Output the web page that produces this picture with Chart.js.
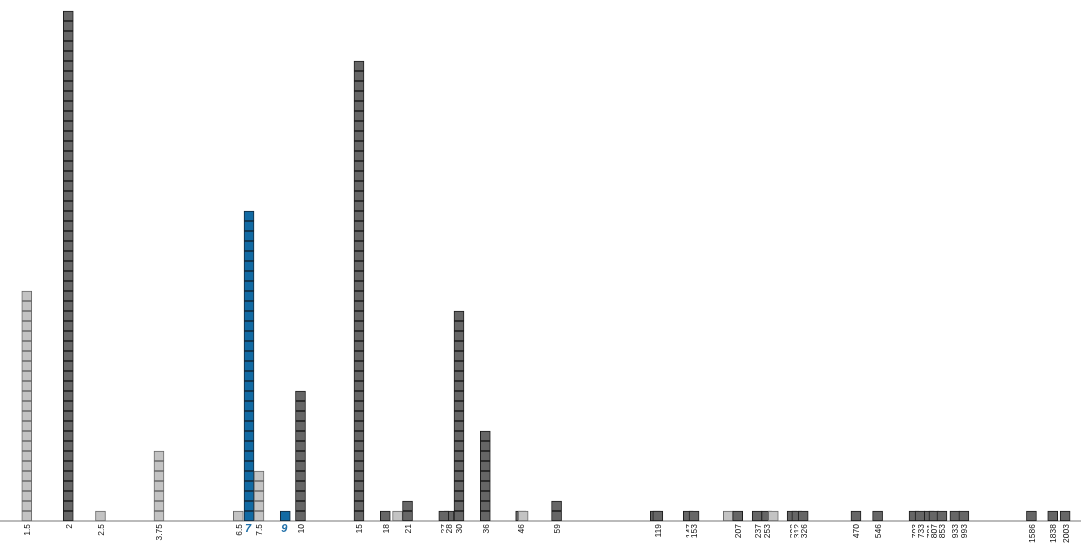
<!DOCTYPE html>
<html>
<head>
<meta charset="utf-8">
<script src="https://cdn.jsdelivr.net/npm/chart.js@4.4.0/dist/chart.umd.min.js"></script>
<style>
  html, body { margin: 0; padding: 0; background: #fff; }
  #wrap { width: 1081px; height: 557px; }
</style>
</head>
<body>
<div id="wrap"><canvas id="chart"></canvas></div>
<script>
// one column per value (log x), counts = number of unit boxes stacked
const values = [1.5, 2, 2.5, 3.75, 6.5, 7, 7.5, 9, 10, 15, 18, 19.6, 21, 28, 27, 30, 36, 46, 46.8, 59,
  117, 119, 147, 153, 194, 207, 237, 253, 265, 302, 312, 326, 470, 546, 703, 733, 781, 807, 853,
  933, 993, 1586, 1838, 2003];
const counts = [23, 51, 1, 7, 1, 31, 5, 1, 13, 46, 1, 1, 2, 1, 1, 21, 9, 1, 1, 2,
  1, 1, 1, 1, 1, 1, 1, 1, 1, 1, 1, 1, 1, 1, 1, 1, 1, 1, 1,
  1, 1, 1, 1, 1];
// L = light, D = dark, B = highlighted (blue)
const kinds = ['L', 'D', 'L', 'L', 'L', 'B', 'L', 'B', 'D', 'D', 'D', 'L', 'D', 'D', 'D', 'D', 'D', 'D', 'L', 'D',
  'D', 'D', 'D', 'D', 'L', 'D', 'D', 'D', 'L', 'D', 'D', 'D', 'D', 'D', 'D', 'D', 'D', 'D', 'D',
  'D', 'D', 'D', 'D', 'D'];

// labels under the axis
const tickValues = [1.5, 2, 2.5, 3.75, 6.5, 7, 7.5, 9, 10, 15, 18, 21, 27, 28, 30, 36, 46, 59,
  119, 147, 153, 207, 237, 253, 302, 312, 326, 470, 546, 703, 733, 781, 807, 853, 933, 993,
  1586, 1838, 2003];
const highlightTicks = [7, 9];

const palette = {
  L: { fill: '#c3c3c3', border: '#6a6a6a' },
  D: { fill: '#666666', border: '#1c1c1c' },
  B: { fill: '#126aa3', border: '#13283a' }
};

// stack the unit boxes layer by layer
const maxCount = Math.max(...counts);
const layers = [];
for (let k = 0; k < maxCount; k++) {
  const pts = [], fills = [], borders = [];
  values.forEach((v, i) => {
    if (counts[i] > k) {
      pts.push({ x: v, y: 1 });
      fills.push(palette[kinds[i]].fill);
      borders.push(palette[kinds[i]].border);
    }
  });
  layers.push({
    data: pts,
    backgroundColor: fills,
    borderColor: borders,
    borderWidth: 1,
    borderSkipped: false,
    barThickness: 10,
    stack: 'units'
  });
}

const highlightLabels = {
  id: 'highlightLabels',
  afterDraw(chart) {
    const xs = chart.scales.x;
    const ctx = chart.ctx;
    ctx.save();
    ctx.font = 'italic bold 11px "Liberation Sans", Arial, sans-serif';
    ctx.fillStyle = '#1f6fa8';
    ctx.textAlign = 'center';
    ctx.textBaseline = 'top';
    highlightTicks.forEach(v => {
      ctx.fillText(String(v), xs.getPixelForValue(v) - 1, xs.top + 2);
    });
    ctx.restore();
  }
};

new Chart(document.getElementById('chart'), {
  type: 'bar',
  data: { datasets: layers },
  plugins: [highlightLabels],
  options: {
    responsive: true,
    maintainAspectRatio: false,
    animation: false,
    layout: { padding: 0 },
    plugins: { legend: { display: false }, tooltip: { enabled: false } },
    scales: {
      x: {
        type: 'logarithmic',
        min: 1.2459,
        max: 2236,
        bounds: 'data',
        offset: false,
        grid: { display: false, drawTicks: false, offset: false },
        border: { display: true, color: '#bbbbbb', width: 2 },
        afterBuildTicks: s => { s.ticks = tickValues.map(v => ({ value: v })); },
        afterFit: s => { s.height = 36; s.paddingLeft = 0; s.paddingRight = 0; },
        ticks: {
          autoSkip: false,
          minRotation: 90,
          maxRotation: 90,
          padding: 3,
          labelOffset: -4,
          color: '#1a1a1a',
          font: { family: 'Liberation Sans', size: 8.5 },
          showLabelBackdrop: true,
          backdropColor: '#ffffff',
          backdropPadding: 1,
          callback: v => highlightTicks.includes(v) ? '' : String(v)
        }
      },
      y: {
        display: false,
        stacked: true,
        min: 0,
        max: 52.1
      }
    }
  }
});
</script>
</body>
</html>
